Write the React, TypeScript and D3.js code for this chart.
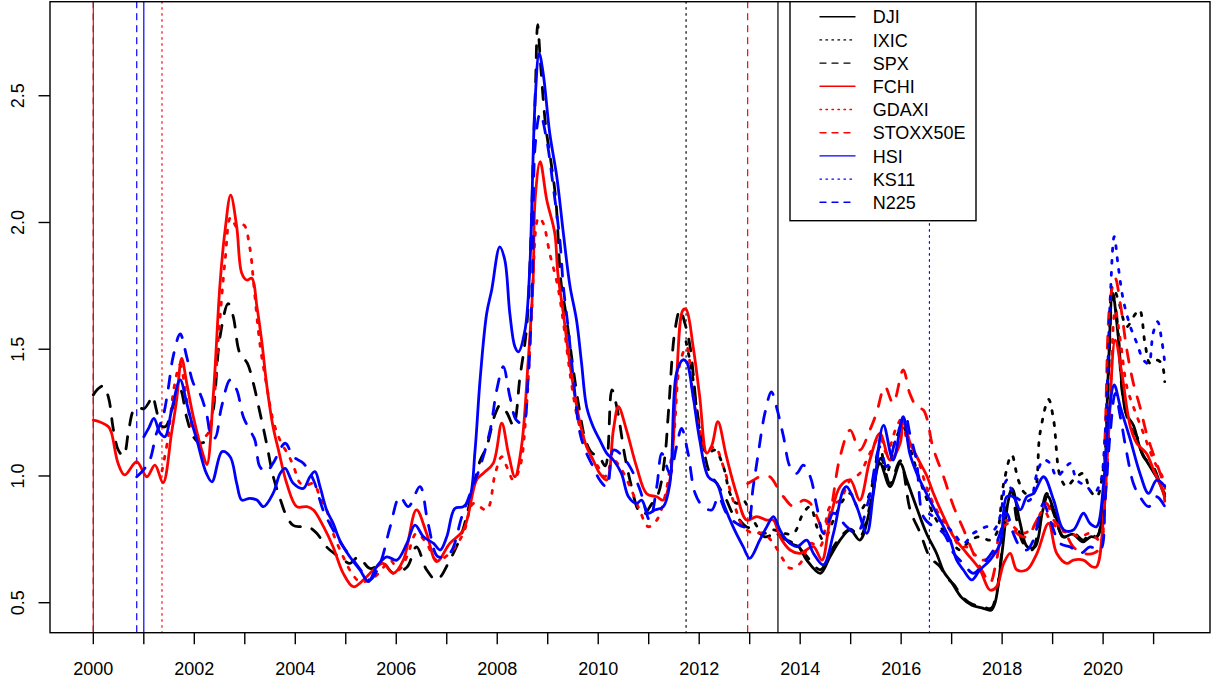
import React from 'react';
import * as d3 from 'd3';

const width = 1215;
const height = 684;

// plot region in pixels (R base plot)
const left = 50;
const right = 1210;
const top = 1.7;
const bottom = 632.7;

// each index starts on its own date (vertical lines)
const starts = [
  { name: 'SPX', t: 2000.0 },
  { name: 'FCHI', t: 2000.0 },
  { name: 'N225', t: 2000.86 },
  { name: 'HSI', t: 2001.0 },
  { name: 'GDAXI', t: 2001.36 },
  { name: 'IXIC', t: 2011.74 },
  { name: 'STOXX50E', t: 2012.96 },
  { name: 'DJI', t: 2013.56 },
  { name: 'KS11', t: 2016.56 },
];

const xTicks = d3.range(2000, 2022);
const xLabels = d3.range(2000, 2021, 2);
const yTicks = [0.5, 1.0, 1.5, 2.0, 2.5];

const DJI = [
  [2013.56, 0.77], [2013.67, 0.76], [2013.8, 0.734], [2013.97, 0.721], [2014.13, 0.668], [2014.4, 0.616],
  [2014.59, 0.681], [2014.79, 0.747], [2014.99, 0.787], [2015.18, 0.747], [2015.38, 0.866], [2015.58, 1.05],
  [2015.78, 0.958], [2015.98, 1.05], [2016.11, 0.984], [2016.3, 0.879], [2016.5, 0.774], [2016.7, 0.695],
  [2016.85, 0.62], [2017.0, 0.58], [2017.2, 0.52], [2017.4, 0.49], [2017.6, 0.48], [2017.78, 0.47],
  [2017.86, 0.5], [2018.0, 0.7], [2018.12, 0.9], [2018.2, 0.95], [2018.35, 0.82], [2018.5, 0.72],
  [2018.65, 0.72], [2018.8, 0.86], [2018.9, 0.92], [2019.05, 0.85], [2019.2, 0.76], [2019.4, 0.77],
  [2019.6, 0.74], [2019.75, 0.76], [2019.88, 0.76], [2020.0, 0.88], [2020.1, 1.4], [2020.19, 1.72],
  [2020.3, 1.55], [2020.45, 1.25], [2020.6, 1.2], [2020.75, 1.1], [2020.95, 1.03], [2021.1, 0.98], [2021.22, 0.92],
];

const IXIC = [
  [2011.74, 1.53], [2011.82, 1.45], [2011.88, 1.379], [2012.01, 1.181], [2012.15, 1.089], [2012.31, 1.102],
  [2012.48, 1.036], [2012.61, 0.931], [2012.74, 0.892], [2012.87, 0.905], [2013.07, 0.826], [2013.27, 0.774],
  [2013.47, 0.787], [2013.67, 0.774], [2013.87, 0.774], [2014.06, 0.853], [2014.2, 0.879], [2014.33, 0.8],
  [2014.46, 0.747], [2014.66, 0.826], [2014.85, 0.905], [2014.99, 0.931], [2015.18, 0.866], [2015.38, 0.931],
  [2015.58, 1.115], [2015.71, 1.01], [2015.91, 1.155], [2016.04, 1.194], [2016.17, 1.115], [2016.37, 0.984],
  [2016.57, 0.879], [2016.7, 0.826], [2016.97, 0.747], [2017.17, 0.708], [2017.37, 0.747], [2017.56, 0.76],
  [2017.76, 0.747], [2017.89, 0.774], [2018.03, 0.97], [2018.19, 1.083], [2018.32, 0.984], [2018.46, 0.931],
  [2018.62, 0.931], [2018.75, 1.168], [2018.92, 1.302], [2019.02, 1.22], [2019.15, 0.997], [2019.28, 0.958],
  [2019.41, 0.984], [2019.61, 1.01], [2019.74, 0.944], [2019.87, 0.918], [2020.01, 1.037], [2020.11, 1.431],
  [2020.19, 1.747], [2020.3, 1.694], [2020.47, 1.589], [2020.6, 1.628], [2020.72, 1.655], [2020.83, 1.523],
  [2020.93, 1.444], [2021.06, 1.457], [2021.16, 1.444], [2021.22, 1.372],
];

const SPX = [
  [2000.0, 1.32], [2000.1, 1.345], [2000.2, 1.355], [2000.3, 1.31], [2000.4, 1.18], [2000.5, 1.1], [2000.6, 1.08],
  [2000.7, 1.18], [2000.8, 1.26], [2000.9, 1.27], [2001.0, 1.265], [2001.1, 1.29], [2001.17, 1.315], [2001.25, 1.26],
  [2001.33, 1.2], [2001.43, 1.195], [2001.58, 1.275], [2001.72, 1.34], [2001.85, 1.23], [2001.98, 1.155],
  [2002.11, 1.13], [2002.24, 1.14], [2002.37, 1.25], [2002.51, 1.55], [2002.67, 1.68], [2002.77, 1.63],
  [2002.9, 1.485], [2003.05, 1.445], [2003.17, 1.365], [2003.3, 1.25], [2003.43, 1.13], [2003.56, 1.0],
  [2003.7, 0.91], [2003.83, 0.84], [2003.96, 0.805], [2004.1, 0.8], [2004.25, 0.8], [2004.42, 0.775],
  [2004.62, 0.72], [2004.8, 0.69], [2004.95, 0.67], [2005.08, 0.655], [2005.25, 0.68], [2005.48, 0.635],
  [2005.74, 0.655], [2005.94, 0.617], [2006.21, 0.64], [2006.4, 0.72], [2006.6, 0.63], [2006.8, 0.59],
  [2007.06, 0.668], [2007.3, 0.775], [2007.53, 0.96], [2007.66, 1.06], [2007.79, 1.115], [2007.96, 1.245],
  [2008.06, 1.28], [2008.19, 1.25], [2008.32, 1.2], [2008.45, 1.39], [2008.58, 1.58], [2008.66, 1.9],
  [2008.72, 2.3], [2008.76, 2.55], [2008.8, 2.78], [2008.86, 2.62], [2008.96, 2.38], [2009.06, 2.245],
  [2009.16, 2.09], [2009.26, 1.77], [2009.36, 1.64], [2009.49, 1.445], [2009.62, 1.27], [2009.75, 1.14],
  [2009.88, 1.09], [2010.01, 1.08], [2010.14, 1.04], [2010.27, 1.34], [2010.37, 1.27], [2010.53, 1.076],
  [2010.66, 0.957], [2010.79, 0.866], [2010.89, 0.846], [2011.06, 0.89], [2011.19, 0.93], [2011.32, 1.076],
  [2011.39, 1.25], [2011.52, 1.575], [2011.62, 1.655], [2011.72, 1.6], [2011.82, 1.51], [2011.95, 1.27],
  [2012.08, 1.115], [2012.21, 1.01], [2012.35, 0.97], [2012.54, 0.905], [2012.67, 0.85], [2012.8, 0.826],
  [2012.93, 0.8], [2013.1, 0.79], [2013.3, 0.76], [2013.5, 0.77], [2013.7, 0.75], [2013.9, 0.73], [2014.1, 0.69],
  [2014.4, 0.63], [2014.6, 0.7], [2014.8, 0.76], [2015.0, 0.79], [2015.18, 0.76], [2015.38, 0.88], [2015.6, 1.07],
  [2015.78, 0.97], [2015.98, 1.06], [2016.18, 0.865], [2016.38, 0.774], [2016.57, 0.68], [2016.77, 0.642],
  [2016.9, 0.6], [2017.05, 0.57], [2017.2, 0.525], [2017.4, 0.495], [2017.6, 0.485], [2017.78, 0.478],
  [2017.88, 0.53], [2017.96, 0.642], [2018.09, 0.879],
  [2018.19, 0.944], [2018.29, 0.826], [2018.42, 0.734], [2018.59, 0.708], [2018.75, 0.826], [2018.88, 0.931],
  [2019.02, 0.853], [2019.22, 0.76], [2019.41, 0.774], [2019.61, 0.747], [2019.74, 0.774], [2019.87, 0.76],
  [2020.01, 0.905], [2020.11, 1.431], [2020.19, 1.72], [2020.27, 1.628], [2020.4, 1.3], [2020.54, 1.194],
  [2020.67, 1.155], [2020.8, 1.076], [2020.99, 1.037], [2021.13, 0.97], [2021.22, 0.93],
];

const FCHI = [
  [2000.0, 1.22], [2000.12, 1.214], [2000.3, 1.194], [2000.36, 1.17], [2000.49, 1.05], [2000.62, 1.004],
  [2000.86, 1.056], [2001.06, 0.997], [2001.22, 1.043], [2001.38, 0.973], [2001.55, 1.17], [2001.65, 1.3],
  [2001.75, 1.464], [2001.85, 1.366], [2001.98, 1.234], [2002.18, 1.08], [2002.25, 1.045], [2002.38, 1.33],
  [2002.51, 1.76], [2002.61, 1.97], [2002.72, 2.108], [2002.84, 1.983], [2002.94, 1.8], [2003.04, 1.773],
  [2003.14, 1.78], [2003.24, 1.668], [2003.34, 1.525], [2003.43, 1.366], [2003.56, 1.194], [2003.67, 1.1],
  [2003.83, 0.971], [2004.03, 0.879], [2004.23, 0.879], [2004.36, 0.866], [2004.56, 0.8], [2004.75, 0.72],
  [2004.95, 0.616], [2005.15, 0.563], [2005.35, 0.59], [2005.55, 0.63], [2005.74, 0.655], [2005.94, 0.616],
  [2006.14, 0.668], [2006.4, 0.866], [2006.6, 0.774], [2006.8, 0.662], [2007.06, 0.734], [2007.33, 0.787],
  [2007.59, 0.984], [2007.72, 1.01], [2007.92, 1.05], [2008.09, 1.208], [2008.22, 1.09], [2008.35, 0.997],
  [2008.48, 1.115], [2008.61, 1.445], [2008.71, 1.77], [2008.75, 2.09], [2008.85, 2.24], [2008.98, 2.09],
  [2009.14, 1.957], [2009.2, 1.8], [2009.31, 1.64], [2009.41, 1.484], [2009.54, 1.313], [2009.64, 1.208],
  [2009.77, 1.115], [2009.9, 1.063], [2010.03, 1.01], [2010.17, 0.984], [2010.3, 1.181], [2010.4, 1.273],
  [2010.56, 1.181], [2010.76, 1.036], [2010.96, 0.93], [2011.16, 0.918], [2011.29, 0.905], [2011.42, 0.984],
  [2011.55, 1.379], [2011.68, 1.655], [2011.74, 1.657], [2011.88, 1.51], [2012.01, 1.313], [2012.15, 1.09],
  [2012.25, 1.12], [2012.37, 1.214], [2012.54, 1.076], [2012.74, 0.93], [2012.94, 0.826], [2013.14, 0.84],
  [2013.34, 0.826], [2013.47, 0.826], [2013.6, 0.76], [2013.8, 0.708], [2014.0, 0.695], [2014.26, 0.721],
  [2014.43, 0.668], [2014.59, 0.826], [2014.79, 0.958], [2014.99, 0.984], [2015.18, 0.905], [2015.38, 1.063],
  [2015.58, 1.168], [2015.78, 1.063], [2015.98, 1.129], [2016.04, 1.22], [2016.18, 1.129], [2016.38, 1.05],
  [2016.51, 1.0], [2016.64, 0.931], [2016.84, 0.84], [2017.04, 0.76], [2017.3, 0.695], [2017.56, 0.63],
  [2017.76, 0.55], [2017.89, 0.563], [2018.03, 0.655], [2018.16, 0.695], [2018.29, 0.63], [2018.49, 0.63],
  [2018.69, 0.695], [2018.92, 0.813], [2019.08, 0.695], [2019.28, 0.655], [2019.41, 0.668], [2019.61, 0.668],
  [2019.78, 0.642], [2019.87, 0.642], [2020.01, 0.84], [2020.11, 1.168], [2020.24, 1.536], [2020.37, 1.405],
  [2020.54, 1.194], [2020.67, 1.128], [2020.86, 1.089], [2021.0, 1.023], [2021.2, 0.931], [2021.22, 0.9],
];

const GDAXI = [
  [2001.36, 1.02], [2001.48, 1.15], [2001.6, 1.35], [2001.72, 1.44], [2001.85, 1.3], [2001.98, 1.18],
  [2002.1, 1.155], [2002.24, 1.16], [2002.36, 1.25], [2002.48, 1.55], [2002.61, 1.85], [2002.72, 2.02],
  [2002.85, 1.98], [2002.98, 1.99], [2003.1, 1.9], [2003.18, 1.75], [2003.3, 1.52], [2003.43, 1.36],
  [2003.56, 1.22], [2003.7, 1.14], [2003.87, 1.08], [2003.97, 1.036], [2004.1, 0.971], [2004.23, 0.964],
  [2004.36, 0.971], [2004.49, 0.918], [2004.62, 0.866], [2004.75, 0.774], [2004.95, 0.681], [2005.12, 0.616],
  [2005.28, 0.583], [2005.48, 0.59], [2005.68, 0.622], [2005.88, 0.668], [2006.04, 0.629], [2006.21, 0.681],
  [2006.4, 0.774], [2006.6, 0.734], [2006.8, 0.668], [2007.06, 0.695], [2007.33, 0.774], [2007.53, 0.892],
  [2007.79, 0.866], [2007.96, 1.01], [2008.09, 1.076], [2008.19, 1.036], [2008.32, 0.984], [2008.45, 1.036],
  [2008.58, 1.273], [2008.68, 1.64], [2008.82, 2.02], [2008.91, 1.997], [2009.04, 1.878], [2009.2, 1.747],
  [2009.33, 1.576], [2009.46, 1.379], [2009.6, 1.22], [2009.73, 1.142], [2009.86, 1.076], [2010.0, 1.036],
  [2010.13, 0.997], [2010.3, 1.063], [2010.43, 1.036], [2010.63, 0.958], [2010.82, 0.866], [2010.99, 0.8],
  [2011.16, 0.826], [2011.32, 0.918], [2011.49, 1.142], [2011.62, 1.445], [2011.75, 1.51], [2011.88, 1.313],
  [2012.01, 1.181], [2012.15, 1.102], [2012.31, 1.115], [2012.48, 1.036], [2012.67, 0.905], [2012.87, 0.8],
  [2013.07, 0.774], [2013.27, 0.774], [2013.47, 0.734], [2013.67, 0.668], [2013.8, 0.636], [2014.0, 0.655],
  [2014.2, 0.734], [2014.39, 0.721], [2014.59, 0.879], [2014.79, 0.905], [2014.99, 0.984], [2015.18, 1.01],
  [2015.38, 1.089], [2015.58, 1.155], [2015.71, 1.089], [2015.91, 1.194], [2016.04, 1.234], [2016.11, 1.142],
  [2016.31, 1.076], [2016.5, 0.958], [2016.7, 0.866], [2016.97, 0.787], [2017.17, 0.72], [2017.3, 0.72],
  [2017.43, 0.695], [2017.63, 0.668], [2017.83, 0.695], [2017.96, 0.774], [2018.09, 0.826], [2018.22, 0.8],
  [2018.42, 0.774], [2018.62, 0.8], [2018.82, 0.866], [2018.95, 0.826], [2019.15, 0.787], [2019.35, 0.774],
  [2019.55, 0.76], [2019.74, 0.774], [2019.94, 0.747], [2020.04, 0.905], [2020.14, 1.3], [2020.24, 1.654],
  [2020.34, 1.536], [2020.47, 1.352], [2020.6, 1.273], [2020.8, 1.168], [2021.0, 1.063], [2021.2, 0.984],
  [2021.22, 0.95],
];

const STOXX50E = [
  [2012.96, 0.97], [2013.08, 0.984], [2013.2, 0.997], [2013.4, 0.997], [2013.54, 0.958], [2013.67, 0.918],
  [2013.87, 0.879], [2014.07, 0.905], [2014.2, 0.892], [2014.33, 0.84], [2014.46, 0.787], [2014.59, 0.853],
  [2014.79, 1.076], [2014.99, 1.181], [2015.18, 1.102], [2015.38, 1.181], [2015.51, 1.247], [2015.68, 1.352],
  [2015.84, 1.287], [2016.04, 1.418], [2016.17, 1.326], [2016.31, 1.273], [2016.44, 1.26], [2016.52, 1.22],
  [2016.62, 1.12], [2016.84, 0.997], [2017.04, 0.879], [2017.24, 0.787], [2017.43, 0.695], [2017.63, 0.616],
  [2017.76, 0.577], [2017.89, 0.668], [2018.03, 0.8], [2018.16, 0.813], [2018.29, 0.774], [2018.49, 0.76],
  [2018.69, 0.826], [2018.88, 0.892], [2019.02, 0.826], [2019.22, 0.787], [2019.41, 0.72], [2019.61, 0.695],
  [2019.81, 0.695], [2019.94, 0.72], [2020.04, 1.168], [2020.14, 1.694], [2020.24, 1.78], [2020.34, 1.68],
  [2020.47, 1.497], [2020.6, 1.365], [2020.73, 1.273], [2020.86, 1.168], [2020.99, 1.089], [2021.13, 1.01],
  [2021.22, 0.95],
];

const HSI = [
  [2001.0, 1.155], [2001.1, 1.19], [2001.2, 1.227], [2001.32, 1.17], [2001.42, 1.155], [2001.55, 1.26],
  [2001.72, 1.379], [2001.85, 1.287], [2001.95, 1.21], [2002.05, 1.142], [2002.24, 1.01], [2002.35, 0.977],
  [2002.55, 1.096], [2002.71, 1.076], [2002.84, 0.971], [2002.94, 0.905], [2003.1, 0.912], [2003.24, 0.905],
  [2003.37, 0.879], [2003.56, 0.931], [2003.7, 1.01], [2003.8, 1.03], [2003.96, 0.971], [2004.16, 0.951],
  [2004.29, 0.997], [2004.39, 1.017], [2004.49, 0.958], [2004.62, 0.866], [2004.75, 0.813], [2004.88, 0.747],
  [2005.08, 0.681], [2005.28, 0.629], [2005.45, 0.583], [2005.61, 0.642], [2005.81, 0.681], [2006.01, 0.668],
  [2006.21, 0.734], [2006.37, 0.806], [2006.54, 0.76], [2006.74, 0.734], [2006.87, 0.708], [2007.0, 0.76],
  [2007.16, 0.872], [2007.33, 0.879], [2007.46, 0.918], [2007.56, 1.1], [2007.66, 1.379], [2007.79, 1.64],
  [2007.89, 1.734], [2008.05, 1.904], [2008.15, 1.852], [2008.25, 1.64], [2008.35, 1.51], [2008.42, 1.49],
  [2008.55, 1.576], [2008.64, 1.8], [2008.75, 2.48], [2008.83, 2.667], [2008.91, 2.588], [2009.04, 2.352],
  [2009.18, 2.18], [2009.31, 1.957], [2009.44, 1.75], [2009.57, 1.615], [2009.67, 1.445], [2009.77, 1.273],
  [2009.9, 1.194], [2010.03, 1.142], [2010.17, 1.089], [2010.3, 1.063], [2010.46, 1.01], [2010.6, 0.918],
  [2010.76, 0.892], [2010.86, 0.905], [2010.99, 0.853], [2011.12, 0.866], [2011.29, 0.879], [2011.42, 0.971],
  [2011.55, 1.405], [2011.68, 1.458], [2011.75, 1.45], [2011.88, 1.313], [2012.01, 1.142], [2012.18, 0.997],
  [2012.35, 0.971], [2012.48, 0.892], [2012.67, 0.8], [2012.87, 0.721], [2013.0, 0.675], [2013.2, 0.747],
  [2013.34, 0.8], [2013.47, 0.84], [2013.6, 0.787], [2013.73, 0.747], [2013.93, 0.721], [2014.13, 0.747],
  [2014.26, 0.695], [2014.46, 0.649], [2014.66, 0.774], [2014.85, 0.944], [2014.92, 0.958], [2015.12, 0.879],
  [2015.32, 0.774], [2015.45, 0.931], [2015.65, 1.2], [2015.84, 1.063], [2016.04, 1.234], [2016.17, 1.089],
  [2016.31, 1.01], [2016.5, 0.931], [2016.7, 0.853], [2016.97, 0.747], [2017.1, 0.668], [2017.23, 0.63],
  [2017.4, 0.59], [2017.56, 0.63], [2017.76, 0.668], [2017.96, 0.734], [2018.09, 0.918], [2018.22, 0.918],
  [2018.36, 0.866], [2018.49, 0.918], [2018.62, 0.931], [2018.82, 0.997], [2019.02, 0.905], [2019.22, 0.787],
  [2019.41, 0.787], [2019.61, 0.853], [2019.74, 0.813], [2019.87, 0.8], [2020.01, 0.971], [2020.11, 1.234],
  [2020.22, 1.359], [2020.34, 1.273], [2020.54, 1.142], [2020.73, 1.01], [2020.9, 0.931], [2021.06, 0.984],
  [2021.22, 0.96],
];

const KS11 = [
  [2016.56, 0.85], [2016.64, 0.84], [2016.84, 0.813], [2017.04, 0.774], [2017.23, 0.734], [2017.43, 0.774],
  [2017.56, 0.787], [2017.7, 0.8], [2017.83, 0.787], [2017.96, 0.84], [2018.09, 0.984], [2018.22, 0.931],
  [2018.36, 0.905], [2018.55, 0.905], [2018.69, 1.01], [2018.82, 1.063], [2018.95, 1.05], [2019.08, 0.997],
  [2019.22, 1.023], [2019.35, 1.05], [2019.48, 0.984], [2019.68, 0.958], [2019.81, 0.931], [2019.94, 0.971],
  [2020.04, 1.168], [2020.14, 1.694], [2020.22, 1.944], [2020.3, 1.826], [2020.4, 1.694], [2020.54, 1.589],
  [2020.67, 1.523], [2020.8, 1.457], [2020.9, 1.444], [2020.99, 1.563], [2021.08, 1.609], [2021.16, 1.536],
  [2021.22, 1.45],
];

const N225 = [
  [2000.86, 0.997], [2000.99, 1.023], [2001.12, 1.063], [2001.25, 1.168], [2001.38, 1.234], [2001.48, 1.34],
  [2001.58, 1.47], [2001.72, 1.56], [2001.85, 1.47], [2001.98, 1.366], [2002.11, 1.326], [2002.24, 1.247],
  [2002.34, 1.155], [2002.41, 1.15], [2002.54, 1.273], [2002.71, 1.379], [2002.84, 1.34], [2002.97, 1.234],
  [2003.1, 1.181], [2003.2, 1.142], [2003.3, 1.036], [2003.43, 1.017], [2003.56, 1.05], [2003.8, 1.129],
  [2003.96, 1.076], [2004.16, 1.05], [2004.36, 0.984], [2004.55, 0.866], [2004.75, 0.787], [2004.95, 0.721],
  [2005.15, 0.668], [2005.35, 0.616], [2005.48, 0.59], [2005.68, 0.655], [2005.88, 0.8], [2006.07, 0.918],
  [2006.24, 0.879], [2006.47, 0.958], [2006.63, 0.813], [2006.83, 0.681], [2007.06, 0.695], [2007.3, 0.84],
  [2007.5, 0.95], [2007.66, 1.036], [2007.86, 1.181], [2007.99, 1.339], [2008.12, 1.431], [2008.25, 1.313],
  [2008.38, 1.22], [2008.51, 1.208], [2008.61, 1.379], [2008.7, 1.8], [2008.75, 2.3], [2008.85, 2.43],
  [2008.98, 2.325], [2009.11, 2.14], [2009.24, 1.93], [2009.31, 1.747], [2009.41, 1.576], [2009.51, 1.379],
  [2009.64, 1.168], [2009.77, 1.089], [2009.9, 1.036], [2010.03, 0.984], [2010.17, 0.958], [2010.3, 1.102],
  [2010.43, 1.089], [2010.63, 1.036], [2010.83, 0.944], [2011.02, 0.826], [2011.16, 0.958], [2011.26, 1.089],
  [2011.42, 1.01], [2011.55, 1.115], [2011.65, 1.188], [2011.78, 1.089], [2011.92, 0.931], [2012.08, 0.879],
  [2012.25, 0.866], [2012.38, 0.918], [2012.54, 0.853], [2012.74, 0.813], [2012.94, 0.8], [2013.07, 0.958],
  [2013.17, 1.089], [2013.3, 1.247], [2013.43, 1.332], [2013.53, 1.273], [2013.67, 1.155], [2013.8, 1.036],
  [2013.93, 1.01], [2014.06, 1.043], [2014.2, 0.997], [2014.33, 0.879], [2014.46, 0.774], [2014.66, 0.853],
  [2014.92, 0.8], [2015.12, 0.774], [2015.35, 0.9], [2015.58, 1.115], [2015.71, 1.036], [2015.91, 1.155],
  [2016.08, 1.24], [2016.17, 1.168], [2016.3, 1.063], [2016.44, 0.84], [2016.64, 0.8], [2016.84, 0.774],
  [2017.04, 0.695], [2017.23, 0.655], [2017.43, 0.616], [2017.63, 0.655], [2017.83, 0.708], [2017.96, 0.774],
  [2018.09, 0.853], [2018.22, 0.774], [2018.36, 0.72], [2018.49, 0.708], [2018.62, 0.747], [2018.82, 0.892],
  [2018.95, 0.826], [2019.15, 0.734], [2019.35, 0.72], [2019.55, 0.695], [2019.74, 0.72], [2019.94, 0.708],
  [2020.04, 0.905], [2020.14, 1.168], [2020.24, 1.326], [2020.34, 1.234], [2020.47, 1.089], [2020.6, 0.97],
  [2020.73, 0.918], [2020.9, 0.879], [2021.06, 0.918], [2021.22, 0.88],
];

// drawing order as in the legend
const series = [
  { name: 'DJI', data: DJI, color: '#000000', lty: 'solid' },
  { name: 'IXIC', data: IXIC, color: '#000000', lty: 'dotted' },
  { name: 'SPX', data: SPX, color: '#000000', lty: 'dashed' },
  { name: 'FCHI', data: FCHI, color: '#ff0000', lty: 'solid' },
  { name: 'GDAXI', data: GDAXI, color: '#ff0000', lty: 'dotted' },
  { name: 'STOXX50E', data: STOXX50E, color: '#ff0000', lty: 'dashed' },
  { name: 'HSI', data: HSI, color: '#0000ff', lty: 'solid' },
  { name: 'KS11', data: KS11, color: '#0000ff', lty: 'dotted' },
  { name: 'N225', data: N225, color: '#0000ff', lty: 'dashed' },
];

const thick = { solid: undefined, dotted: '3,9', dashed: '12,12' };
const thin = { solid: undefined, dotted: '1.5,4.5', dashed: '6,6' };

const font = '"Liberation Sans", Arial, Helvetica, sans-serif';

const App = () => {
  const x = d3.scaleLinear().domain([1999.142, 2022.117]).range([left, right]);
  const y = d3.scaleLinear().domain([0.3817, 2.871]).range([bottom, top]);

  const line = d3
    .line<number[]>()
    .x((d) => x(d[0]))
    .y((d) => y(d[1]))
    .curve(d3.curveCatmullRom.alpha(0.5));

  const byName = Object.fromEntries(series.map((s) => [s.name, s]));

  return (
    <svg
      width={width}
      height={height}
      style={{ position: 'absolute', left: 0, top: 0, background: '#fff' }}
      fontFamily={font}
    >
      <rect x={0} y={0} width={width} height={height} fill="#fff" />

      {/* start-date markers */}
      {starts.map((s) => {
        const info = byName[s.name];
        return (
          <line
            key={'v' + s.name}
            x1={x(s.t)}
            x2={x(s.t)}
            y1={top}
            y2={bottom}
            stroke={info.color}
            strokeWidth={1.2}
            strokeDasharray={thin[info.lty]}
            strokeLinecap="round"
          />
        );
      })}

      {/* series */}
      {series.map((s) => (
        <path
          key={s.name}
          d={line(s.data) || ''}
          fill="none"
          stroke={s.color}
          strokeWidth={2.8}
          strokeDasharray={thick[s.lty]}
          strokeLinecap="round"
          strokeLinejoin="round"
        />
      ))}

      {/* box */}
      <rect x={left} y={top} width={right - left} height={bottom - top} fill="none" stroke="#000" strokeWidth={1.4} />

      {/* x axis */}
      {xTicks.map((t) => (
        <line key={'xt' + t} x1={x(t)} x2={x(t)} y1={bottom} y2={bottom + 11.5} stroke="#000" strokeWidth={1.4} />
      ))}
      {xLabels.map((t) => (
        <text key={'xl' + t} x={x(t)} y={674.5} fontSize={18} textAnchor="middle" fill="#000">
          {t}
        </text>
      ))}

      {/* y axis */}
      {yTicks.map((t) => (
        <g key={'yt' + t}>
          <line x1={left - 11.5} x2={left} y1={y(t)} y2={y(t)} stroke="#000" strokeWidth={1.4} />
          <text
            transform={`translate(23.5,${y(t)}) rotate(-90)`}
            fontSize={18}
            textAnchor="middle"
            fill="#000"
          >
            {t.toFixed(1)}
          </text>
        </g>
      ))}

      {/* legend */}
      <rect x={790} y={top} width={186} height={219} fill="#fff" stroke="#000" strokeWidth={1.4} />
      {series.map((s, i) => {
        const base = 23.3 + i * 23.2;
        return (
          <g key={'lg' + s.name}>
            <line
              x1={820}
              x2={855}
              y1={base - 6.6}
              y2={base - 6.6}
              stroke={s.color}
              strokeWidth={1.4}
              strokeDasharray={thin[s.lty]}
              strokeLinecap="round"
            />
            <text x={872.7} y={base} fontSize={18} fill="#000">
              {s.name}
            </text>
          </g>
        );
      })}
    </svg>
  );
};

export default App;
